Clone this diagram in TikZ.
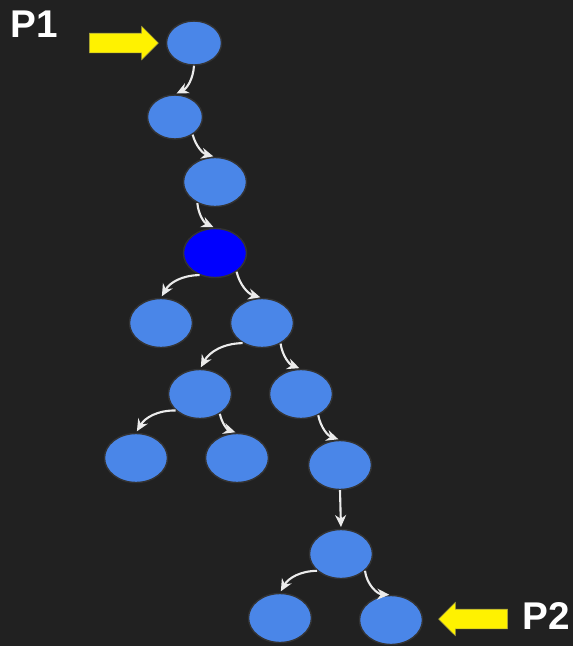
\documentclass[tikz,border=0pt]{standalone}
\usepackage{fontspec}
\setmainfont{Liberation Sans}
\usetikzlibrary{arrows.meta, shapes.geometric, shapes.arrows, positioning}

\definecolor{canvas}{HTML}{212121}
\definecolor{nodeblue}{HTML}{4A86E8}
\definecolor{rim}{HTML}{333333}

\begin{document}
\begin{tikzpicture}[
        x = 0.02cm, y = -0.02cm,
        >= {Stealth[length = 2.4mm, width = 2.2mm]},
        vertex/.style = {ellipse, draw = rim, line width = 0.8pt, fill = nodeblue, inner sep = 0pt, minimum width = 1.26cm, minimum height = 0.98cm},
        small/.style = {minimum width = 1.1cm, minimum height = 0.88cm},
        current/.style = {fill = blue},
        link/.style = {->, white!92!black, line width = 1.2pt, shorten > = 1pt},
        pointer/.style = {single arrow, fill = yellow, draw = yellow!60!black, line width = 0.3pt, inner xsep = 0pt, inner ysep = 0.19cm, minimum height = 1.38cm, single arrow head extend = 0.14cm, single arrow tip angle = 90},
        tag/.style = {text = white, inner sep = 0pt, font = \fontsize{22}{26}\selectfont\bfseries}
    ]

    \fill[canvas] (0,0) rectangle (573,646);

    \node[vertex, small] (e0) at (194,43) {};
    \node[vertex, small] (e1) at (175,117) {};
    \node[vertex] (e2) at (215,182) {};
    \node[vertex, current] (e3) at (215,253) {};
    \node[vertex] (e4) at (161,323) {};
    \node[vertex] (e5) at (262,323) {};
    \node[vertex] (e6) at (200,394) {};
    \node[vertex] (e7) at (301,394) {};
    \node[vertex] (e8) at (136,458) {};
    \node[vertex] (e9) at (237,458) {};
    \node[vertex] (e10) at (340,465) {};
    \node[vertex] (e11) at (341,554) {};
    \node[vertex] (e12) at (280,618) {};
    \node[vertex] (e13) at (391,620) {};

    \node[pointer] (a1) at (119,43) {};
    \node[pointer, shape border rotate = 180] (a2) at (478,619) {};
    \node[tag] (p1) at (34,24) {P1};
    \node[tag] (p2) at (546,616) {P2};

    \path[link]
        (e0.south) edge [bend left] (e1.north)
        (e1.-45) edge [bend right] (e2.north)
        (e2.-130) edge [bend right] (e3.north)
        (e3.-125) edge [bend right] (e4.north)
        (e3.-41) edge [bend right] (e5.north)
        (e5.-134) edge [bend right] (e6.north)
        (e5.-48) edge [bend right] (e7.north)
        (e6.-146) edge [bend right] (e8.north)
        (e6.-45) edge [bend right] (e9.north)
        (e7.-51) edge [bend right] (e10.north)
        (e10.south) edge (e11.north)
        (e11.-145) edge [bend right] (e12.north)
        (e11.-35) edge [bend right = 40] (e13.north);
\end{tikzpicture}
\end{document}
